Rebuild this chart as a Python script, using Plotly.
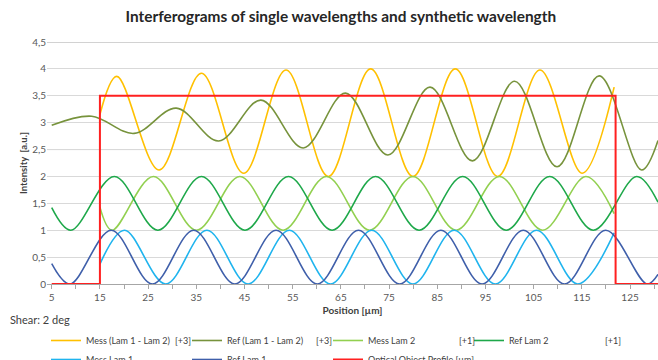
import plotly.graph_objects as go

# ---- data (extrema and end points of each curve) ----
mess12_x = [15, 18.5, 27.28, 36.06, 44.84, 53.62, 62.4, 71.18, 79.96, 88.74, 97.52, 106.3, 115.08, 121.7]
mess12_y = [3.15, 3.86, 2.12, 3.92, 2.06, 3.98, 2.0, 4.0, 2.0, 4.0, 2.0, 3.98, 2.06, 3.66]

ref12_x = [5, 13.3, 22.1, 30.85, 39.65, 48.4, 57.2, 65.95, 74.75, 83.5, 92.3, 101.05, 109.85, 118.6, 127.4, 130.8]
ref12_y = [2.95, 3.12, 2.80, 3.27, 2.66, 3.42, 2.53, 3.55, 2.40, 3.66, 2.29, 3.77, 2.18, 3.87, 2.12, 2.67]

messl2_x = [15, 17.5, 26.1, 35.05, 44.05, 53.0, 62.0, 70.95, 79.95, 88.9, 97.9, 106.85, 115.85, 121.7]
messl2_y = [1.43, 1.0, 2.0, 1.0, 2.0, 1.0, 2.0, 1.0, 2.0, 1.0, 2.0, 1.0, 2.0, 1.31]

refl2_x = [5, 8.97, 18.0, 27.03, 36.07, 45.1, 54.13, 63.17, 72.2, 81.23, 90.27, 99.3, 108.33, 117.37, 126.4, 130.8]
refl2_y = [1.42, 1.0, 2.0, 1.0, 2.0, 1.0, 2.0, 1.0, 2.0, 1.0, 2.0, 1.0, 2.0, 1.0, 2.0, 1.52]

messl1_x = [15, 20.1, 28.65, 37.2, 45.75, 54.3, 62.85, 71.4, 79.95, 88.5, 97.05, 105.6, 114.15, 121.7]
messl1_y = [0.37, 1.0, 0.0, 1.0, 0.0, 1.0, 0.0, 1.0, 0.0, 1.0, 0.0, 1.0, 0.0, 0.95]

refl1_x = [5, 8.8, 17.35, 25.9, 34.45, 43.0, 51.55, 60.1, 68.65, 77.2, 85.75, 94.3, 102.85, 111.4, 119.95, 128.5, 130.8]
refl1_y = [0.38, 0.0, 1.0, 0.0, 1.0, 0.0, 1.0, 0.0, 1.0, 0.0, 1.0, 0.0, 1.0, 0.0, 1.0, 0.0, 0.18]

profile_x = [5, 15, 15, 122, 122, 130.8]
profile_y = [0, 0, 3.5, 3.5, 0, 0]

x_ticks = [5, 15, 25, 35, 45, 55, 65, 75, 85, 95, 105, 115, 125]
y_ticks = [0, 0.5, 1, 1.5, 2, 2.5, 3, 3.5, 4, 4.5]
y_ticktext = ["0", "0,5", "1", "1,5", "2", "2,5", "3", "3,5", "4", "4,5"]

FONT = "Lato"

series = [
    ("Mess (Lam 1 - Lam 2)", mess12_x, mess12_y, "#FFC000", 1.6, "spline"),
    ("Ref (Lam 1 - Lam 2)", ref12_x, ref12_y, "#77933C", 1.6, "spline"),
    ("Mess Lam 2", messl2_x, messl2_y, "#92D050", 1.6, "spline"),
    ("Ref Lam 2", refl2_x, refl2_y, "#1EA84A", 1.6, "spline"),
    ("Mess Lam 1", messl1_x, messl1_y, "#1FB4EE", 1.6, "spline"),
    ("Ref Lam 1", refl1_x, refl1_y, "#3F5FAA", 1.6, "spline"),
    ("Optical Object Profile [µm]", profile_x, profile_y, "#FF2020", 2.0, "linear"),
]

fig = go.Figure()
for name, xs, ys, color, w, shape in series:
    fig.add_trace(go.Scatter(x=xs, y=ys, mode="lines", name=name,
                             line=dict(color=color, width=w, shape=shape)))

fig.update_layout(
    width=658, height=360, autosize=False,
    margin=dict(l=47, r=0, t=42, b=76, autoexpand=False),
    paper_bgcolor="white", plot_bgcolor="white",
    font=dict(family=FONT, size=10, color="#595959"),
    title=dict(text="<b>Interferograms of single wavelengths and synthetic wavelength</b>",
               x=0.518, xref="container", xanchor="center",
               y=(360 - 17) / 360, yref="container", yanchor="middle",
               font=dict(family=FONT, size=15.4, color="#262626")),
    showlegend=True,
    legend=dict(orientation="h", x=-0.0016, xanchor="left", y=-0.1735, yanchor="top",
                font=dict(family=FONT, size=9, color="#404040"),
                entrywidth=96, traceorder="normal", bgcolor="rgba(0,0,0,0)"),
)

fig.update_xaxes(range=[4.02, 130.8], tickvals=x_ticks, ticktext=[str(v) for v in x_ticks],
                 showgrid=False, zeroline=False, showline=True, linecolor="#A6A6A6", linewidth=1,
                 ticks="outside", ticklen=4, tickcolor="#A6A6A6",
                 minor=dict(dtick=5, tick0=5, ticks="outside", ticklen=4, tickcolor="#A6A6A6", showgrid=False),
                 tickfont=dict(size=10, color="#595959"),
                 title=dict(text="<b>Position [µm]</b>", standoff=4,
                            font=dict(size=10, color="#404040")))

fig.update_yaxes(range=[0, 4.5], tickvals=y_ticks, ticktext=y_ticktext,
                 showgrid=True, gridcolor="#D9D9D9", gridwidth=1, zeroline=False, showline=False,
                 ticks="", tickfont=dict(size=10, color="#595959"),
                 title=dict(text="<b>Intensity  [a.u.]</b>", standoff=2,
                            font=dict(size=9.5, color="#404040")))

for yv in [2.5, 4.5]:
    fig.add_shape(type="line", xref="paper", x0=0, x1=1, yref="y", y0=yv, y1=yv,
                  line=dict(color="#A6A6A6", width=1), layer="below")

def px_x(p):
    return (p - 47) / 611

def px_y(p):
    return (284 - p) / 242

fig.add_annotation(text="Shear: 2 deg", xref="paper", yref="paper", x=px_x(8), y=px_y(319),
                   xanchor="left", yanchor="middle", showarrow=False,
                   font=dict(family=FONT, size=11, color="#404040"))
for txt, lx in [("[+3]", 173), ("[+3]", 314), ("[+1]", 457), ("[+1]", 603)]:
    fig.add_annotation(text=txt, xref="paper", yref="paper", x=px_x(lx), y=px_y(340),
                       xanchor="left", yanchor="middle", showarrow=False,
                       font=dict(family=FONT, size=9, color="#404040"))

fig.write_html("out.html", config={"displayModeBar": False},
               post_script="document.body.style.margin='0px';")
